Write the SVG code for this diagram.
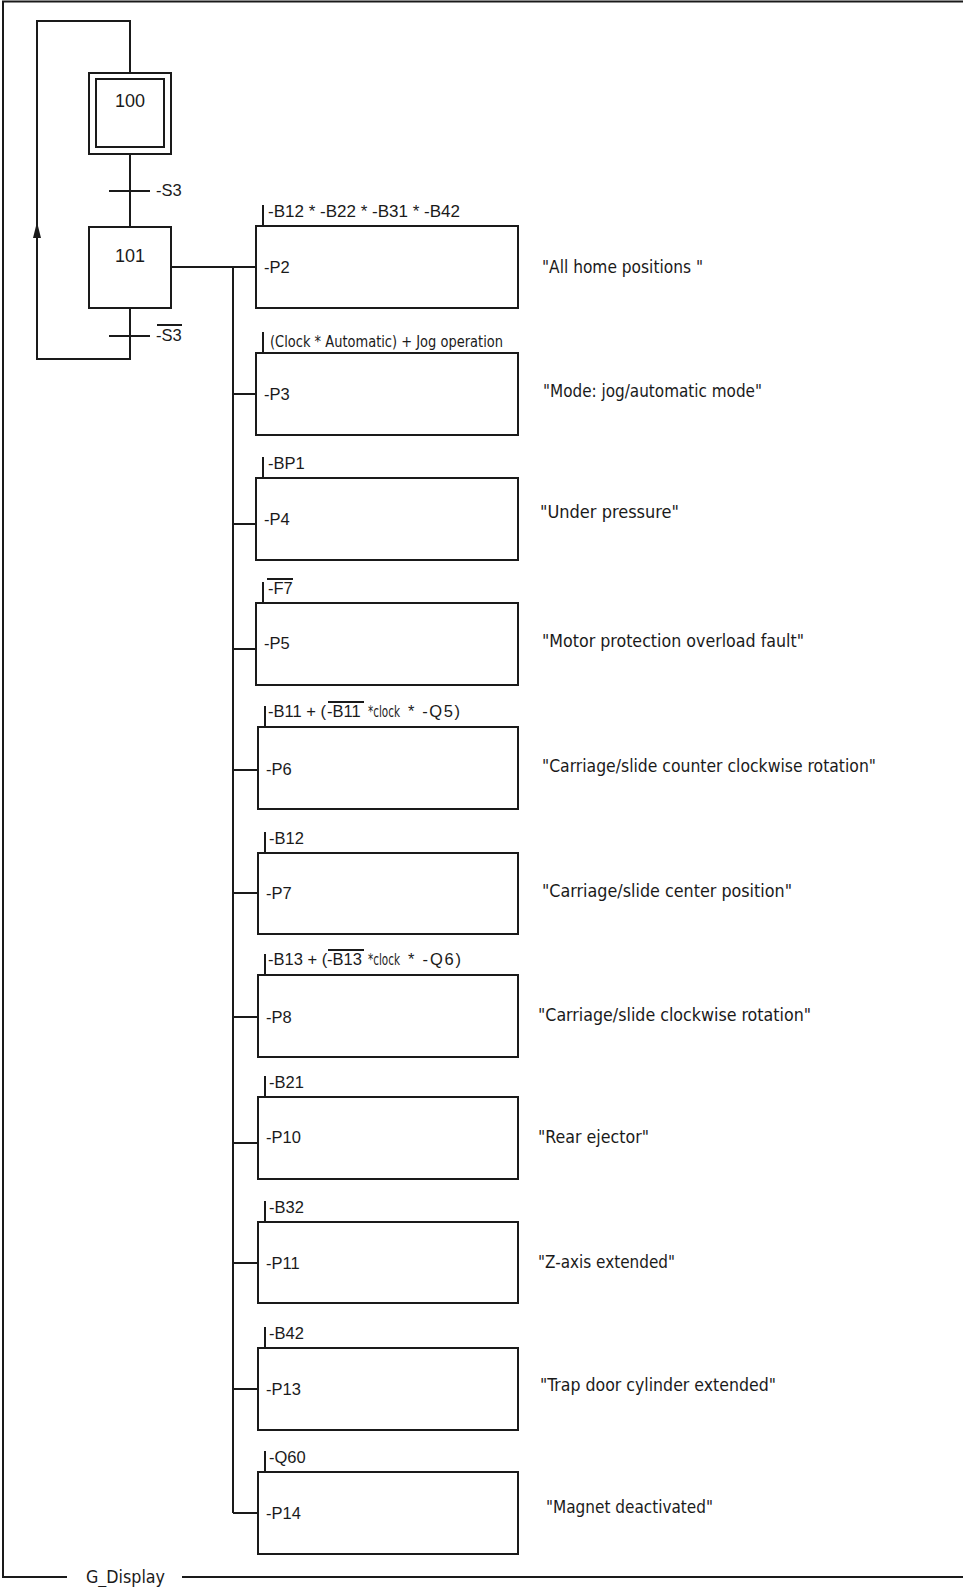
<svg xmlns="http://www.w3.org/2000/svg" width="963" height="1587" viewBox="0 0 963 1587">
<defs>
<style>
.ln{fill:none;stroke:#1a1a1a;stroke-width:2}
.bx{fill:#fff;stroke:#1a1a1a;stroke-width:2}
.lb{font-family:"Liberation Sans",Arial,sans-serif;font-size:16.5px;fill:#1a1a1a}
.st{font-family:"Liberation Sans",Arial,sans-serif;font-size:18px;fill:#1a1a1a;text-anchor:middle}
.nr{font-family:"DejaVu Sans Condensed","DejaVu Sans",sans-serif;font-size:15px;fill:#1a1a1a}
.ds{font-family:"DejaVu Sans Condensed","DejaVu Sans",sans-serif;font-size:17.5px;fill:#1a1a1a}
</style>
</defs>
<rect width="963" height="1587" fill="#fff"/>
<g id="frame">
<path class="ln" d="M963,1.5 H3 V1577 H67 M182,1577 H963"/>
<text class="ds" x="86" y="1583" textLength="79" lengthAdjust="spacingAndGlyphs">G_Display</text>
</g>
<g id="connectors">
<path class="ln" d="M130,308 V359 H37 V21 H130 V73"/>
<polygon points="37,222 33,238 41,238" fill="#1a1a1a"/>
<path class="ln" d="M130,154 V227"/>
<path class="ln" d="M109,191 H150"/>
<path class="ln" d="M109,336 H150"/>
<path class="ln" d="M171,267 H256"/>
<path class="ln" d="M233,267 V1513"/>
<path class="ln" d="M233,394 H256 M233,524 H256 M233,649 H256 M233,770 H258 M233,893 H258 M233,1017 H258 M233,1143 H258 M233,1263 H258 M233,1389 H258 M233,1513 H258"/>
</g>
<g id="t1">
<text class="lb" x="156" y="196">-S3</text>
</g>
<g id="t2">
<text class="lb" x="156" y="341">-S3</text>
<path class="ln" d="M157,325 H182" stroke-width="1.5"/>
</g>
<g id="step100">
<rect class="bx" x="89" y="73" width="82" height="81"/>
<rect class="bx" x="96" y="79" width="68" height="68"/>
<text class="st" x="130" y="107">100</text>
</g>
<g id="step101">
<rect class="bx" x="89" y="227" width="82" height="81"/>
<text class="st" x="130" y="262">101</text>
</g>
<g id="P2">
<rect class="bx" x="256" y="226" width="262" height="82"/>
<path class="ln" d="M263,205 V226"/>
<text class="lb" x="268" y="217" textLength="192" lengthAdjust="spacingAndGlyphs">-B12 * -B22 * -B31 * -B42</text>
<text class="lb" x="264" y="273">-P2</text>
<text class="ds" x="542" y="273" textLength="161" lengthAdjust="spacingAndGlyphs">"All home positions "</text>
</g>
<g id="P3">
<rect class="bx" x="256" y="353" width="262" height="82"/>
<path class="ln" d="M263,332 V353"/>
<text class="nr" x="270" y="347" textLength="233" lengthAdjust="spacingAndGlyphs">(Clock * Automatic) + Jog operation</text>
<text class="lb" x="264" y="400">-P3</text>
<text class="ds" x="543" y="397" textLength="219" lengthAdjust="spacingAndGlyphs">"Mode: jog/automatic mode"</text>
</g>
<g id="P4">
<rect class="bx" x="256" y="478" width="262" height="82"/>
<path class="ln" d="M263,457 V478"/>
<text class="lb" x="268" y="469">-BP1</text>
<text class="lb" x="264" y="525">-P4</text>
<text class="ds" x="540" y="518" textLength="139" lengthAdjust="spacingAndGlyphs">"Under pressure"</text>
</g>
<g id="P5">
<rect class="bx" x="256" y="603" width="262" height="82"/>
<path class="ln" d="M263,582 V603"/>
<text class="lb" x="268" y="594">-F7</text>
<path class="ln" d="M267,579 H293" stroke-width="1.5"/>
<text class="lb" x="264" y="649">-P5</text>
<text class="ds" x="542" y="647" textLength="262" lengthAdjust="spacingAndGlyphs">"Motor protection overload fault"</text>
</g>
<g id="P6">
<rect class="bx" x="258" y="727" width="260" height="82"/>
<path class="ln" d="M265,706 V727"/>
<text class="lb" x="268" y="717">-B11 + (</text>
<text class="lb" x="327" y="717">-B11</text>
<path class="ln" d="M328,702 H364" stroke-width="1.5"/>
<text class="nr" x="368" y="717" textLength="32" lengthAdjust="spacingAndGlyphs">*clock</text>
<text class="lb" x="408" y="717" textLength="52" lengthAdjust="spacing">* -Q5)</text>
<text class="lb" x="266" y="775">-P6</text>
<text class="ds" x="542" y="772" textLength="334" lengthAdjust="spacingAndGlyphs">"Carriage/slide counter clockwise rotation"</text>
</g>
<g id="P7">
<rect class="bx" x="258" y="853" width="260" height="81"/>
<path class="ln" d="M265,832 V853"/>
<text class="lb" x="269" y="844">-B12</text>
<text class="lb" x="266" y="899">-P7</text>
<text class="ds" x="542" y="897" textLength="250" lengthAdjust="spacingAndGlyphs">"Carriage/slide center position"</text>
</g>
<g id="P8">
<rect class="bx" x="258" y="975" width="260" height="82"/>
<path class="ln" d="M265,954 V975"/>
<text class="lb" x="268" y="965">-B13 + (</text>
<text class="lb" x="327" y="965">-B13</text>
<path class="ln" d="M328,950 H364" stroke-width="1.5"/>
<text class="nr" x="368" y="965" textLength="32" lengthAdjust="spacingAndGlyphs">*clock</text>
<text class="lb" x="408" y="965" textLength="53" lengthAdjust="spacing">* -Q6)</text>
<text class="lb" x="266" y="1023">-P8</text>
<text class="ds" x="538" y="1021" textLength="273" lengthAdjust="spacingAndGlyphs">"Carriage/slide clockwise rotation"</text>
</g>
<g id="P10">
<rect class="bx" x="258" y="1097" width="260" height="82"/>
<path class="ln" d="M265,1076 V1097"/>
<text class="lb" x="269" y="1088">-B21</text>
<text class="lb" x="266" y="1143">-P10</text>
<text class="ds" x="538" y="1143" textLength="111" lengthAdjust="spacingAndGlyphs">"Rear ejector"</text>
</g>
<g id="P11">
<rect class="bx" x="258" y="1222" width="260" height="81"/>
<path class="ln" d="M265,1201 V1222"/>
<text class="lb" x="269" y="1213">-B32</text>
<text class="lb" x="266" y="1269">-P11</text>
<text class="ds" x="538" y="1268" textLength="137" lengthAdjust="spacingAndGlyphs">"Z-axis extended"</text>
</g>
<g id="P13">
<rect class="bx" x="258" y="1348" width="260" height="82"/>
<path class="ln" d="M265,1327 V1348"/>
<text class="lb" x="269" y="1339">-B42</text>
<text class="lb" x="266" y="1395">-P13</text>
<text class="ds" x="540" y="1391" textLength="236" lengthAdjust="spacingAndGlyphs">"Trap door cylinder extended"</text>
</g>
<g id="P14">
<rect class="bx" x="258" y="1472" width="260" height="82"/>
<path class="ln" d="M265,1451 V1472"/>
<text class="lb" x="269" y="1463">-Q60</text>
<text class="lb" x="266" y="1519">-P14</text>
<text class="ds" x="546" y="1513" textLength="167" lengthAdjust="spacingAndGlyphs">"Magnet deactivated"</text>
</g>
</svg>
